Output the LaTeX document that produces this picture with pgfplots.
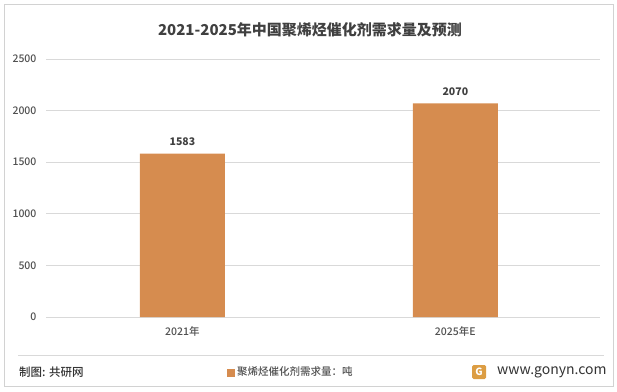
\documentclass[border=0pt]{standalone}
\usepackage{pgfplots}
\pgfplotsset{compat=1.18}
\usepackage{fontspec}
\setmainfont{Noto Sans CJK SC}
\newfontfamily\medf{Noto Sans CJK SC}[UprightFont=* Medium]
\definecolor{barc}{RGB}{214,140,79}
\definecolor{gridc}{RGB}{217,217,217}
\definecolor{tickc}{RGB}{80,80,80}
\definecolor{titc}{RGB}{64,64,64}
\definecolor{borderc}{RGB}{210,210,210}
\begin{document}
\begin{tikzpicture}[x=1pt,y=1pt]
\path (0,0) rectangle (617,391);
\draw[borderc, line width=1pt] (4,5) rectangle (613,386);
\begin{axis}[
  at={(46pt,74pt)}, anchor=south west,
  scale only axis, width=554pt, height=258pt,
  xmin=-0.5, xmax=1.53, ymin=0, ymax=2500,
  ytick={0,500,1000,1500,2000,2500},
  xtick={0,1}, xticklabels={2021年,2025年E},
  ymajorgrids, grid style={gridc, line width=0.8pt},
  axis line style={draw=none}, tick style={draw=none},
  /pgf/number format/assume math mode=true,
  /pgf/number format/1000 sep={},
  yticklabel style={font=\medf\fontsize{10.5}{12}\selectfont, text=tickc, xshift=-6pt},
  xticklabel style={font=\medf\fontsize{10.5}{12}\selectfont, text=tickc, yshift=-6pt},
  nodes near coords,
  every node near coord/.append style={font=\bfseries\fontsize{10.5}{12}\selectfont, text=titc, yshift=4pt},
  clip=false,
]
\addplot[ybar, bar width=85pt, fill=barc, draw=none] coordinates {(0,1583) (1,2070)};
\end{axis}
\node[font=\bfseries\fontsize{15}{18}\selectfont, text=titc] at (310,361) {2021-2025年中国聚烯烃催化剂需求量及预测};
\draw[gridc, line width=0.8pt] (18,36) -- (604,36);
\node[anchor=west, font=\medf\fontsize{11.5}{13}\selectfont, text=black!80, inner sep=0] at (19,19) {制图: 共研网};
\fill[barc] (227,14.5) rectangle (235,22.5);
\node[anchor=west, font=\medf\fontsize{10.5}{12}\selectfont, text=tickc, inner sep=0] at (237,19) {聚烯烃催化剂需求量：吨};
\fill[barc!85!yellow, rounded corners=1.5pt] (472,12) rectangle (486,26);
\node[text=white, font=\bfseries\fontsize{10}{12}\selectfont, inner sep=0] at (479,19) {G};
\node[anchor=west, font=\fontsize{14}{16}\selectfont, text=black!80, inner sep=0] at (497,19) {www.gonyn.com};
\end{tikzpicture}
\end{document}
